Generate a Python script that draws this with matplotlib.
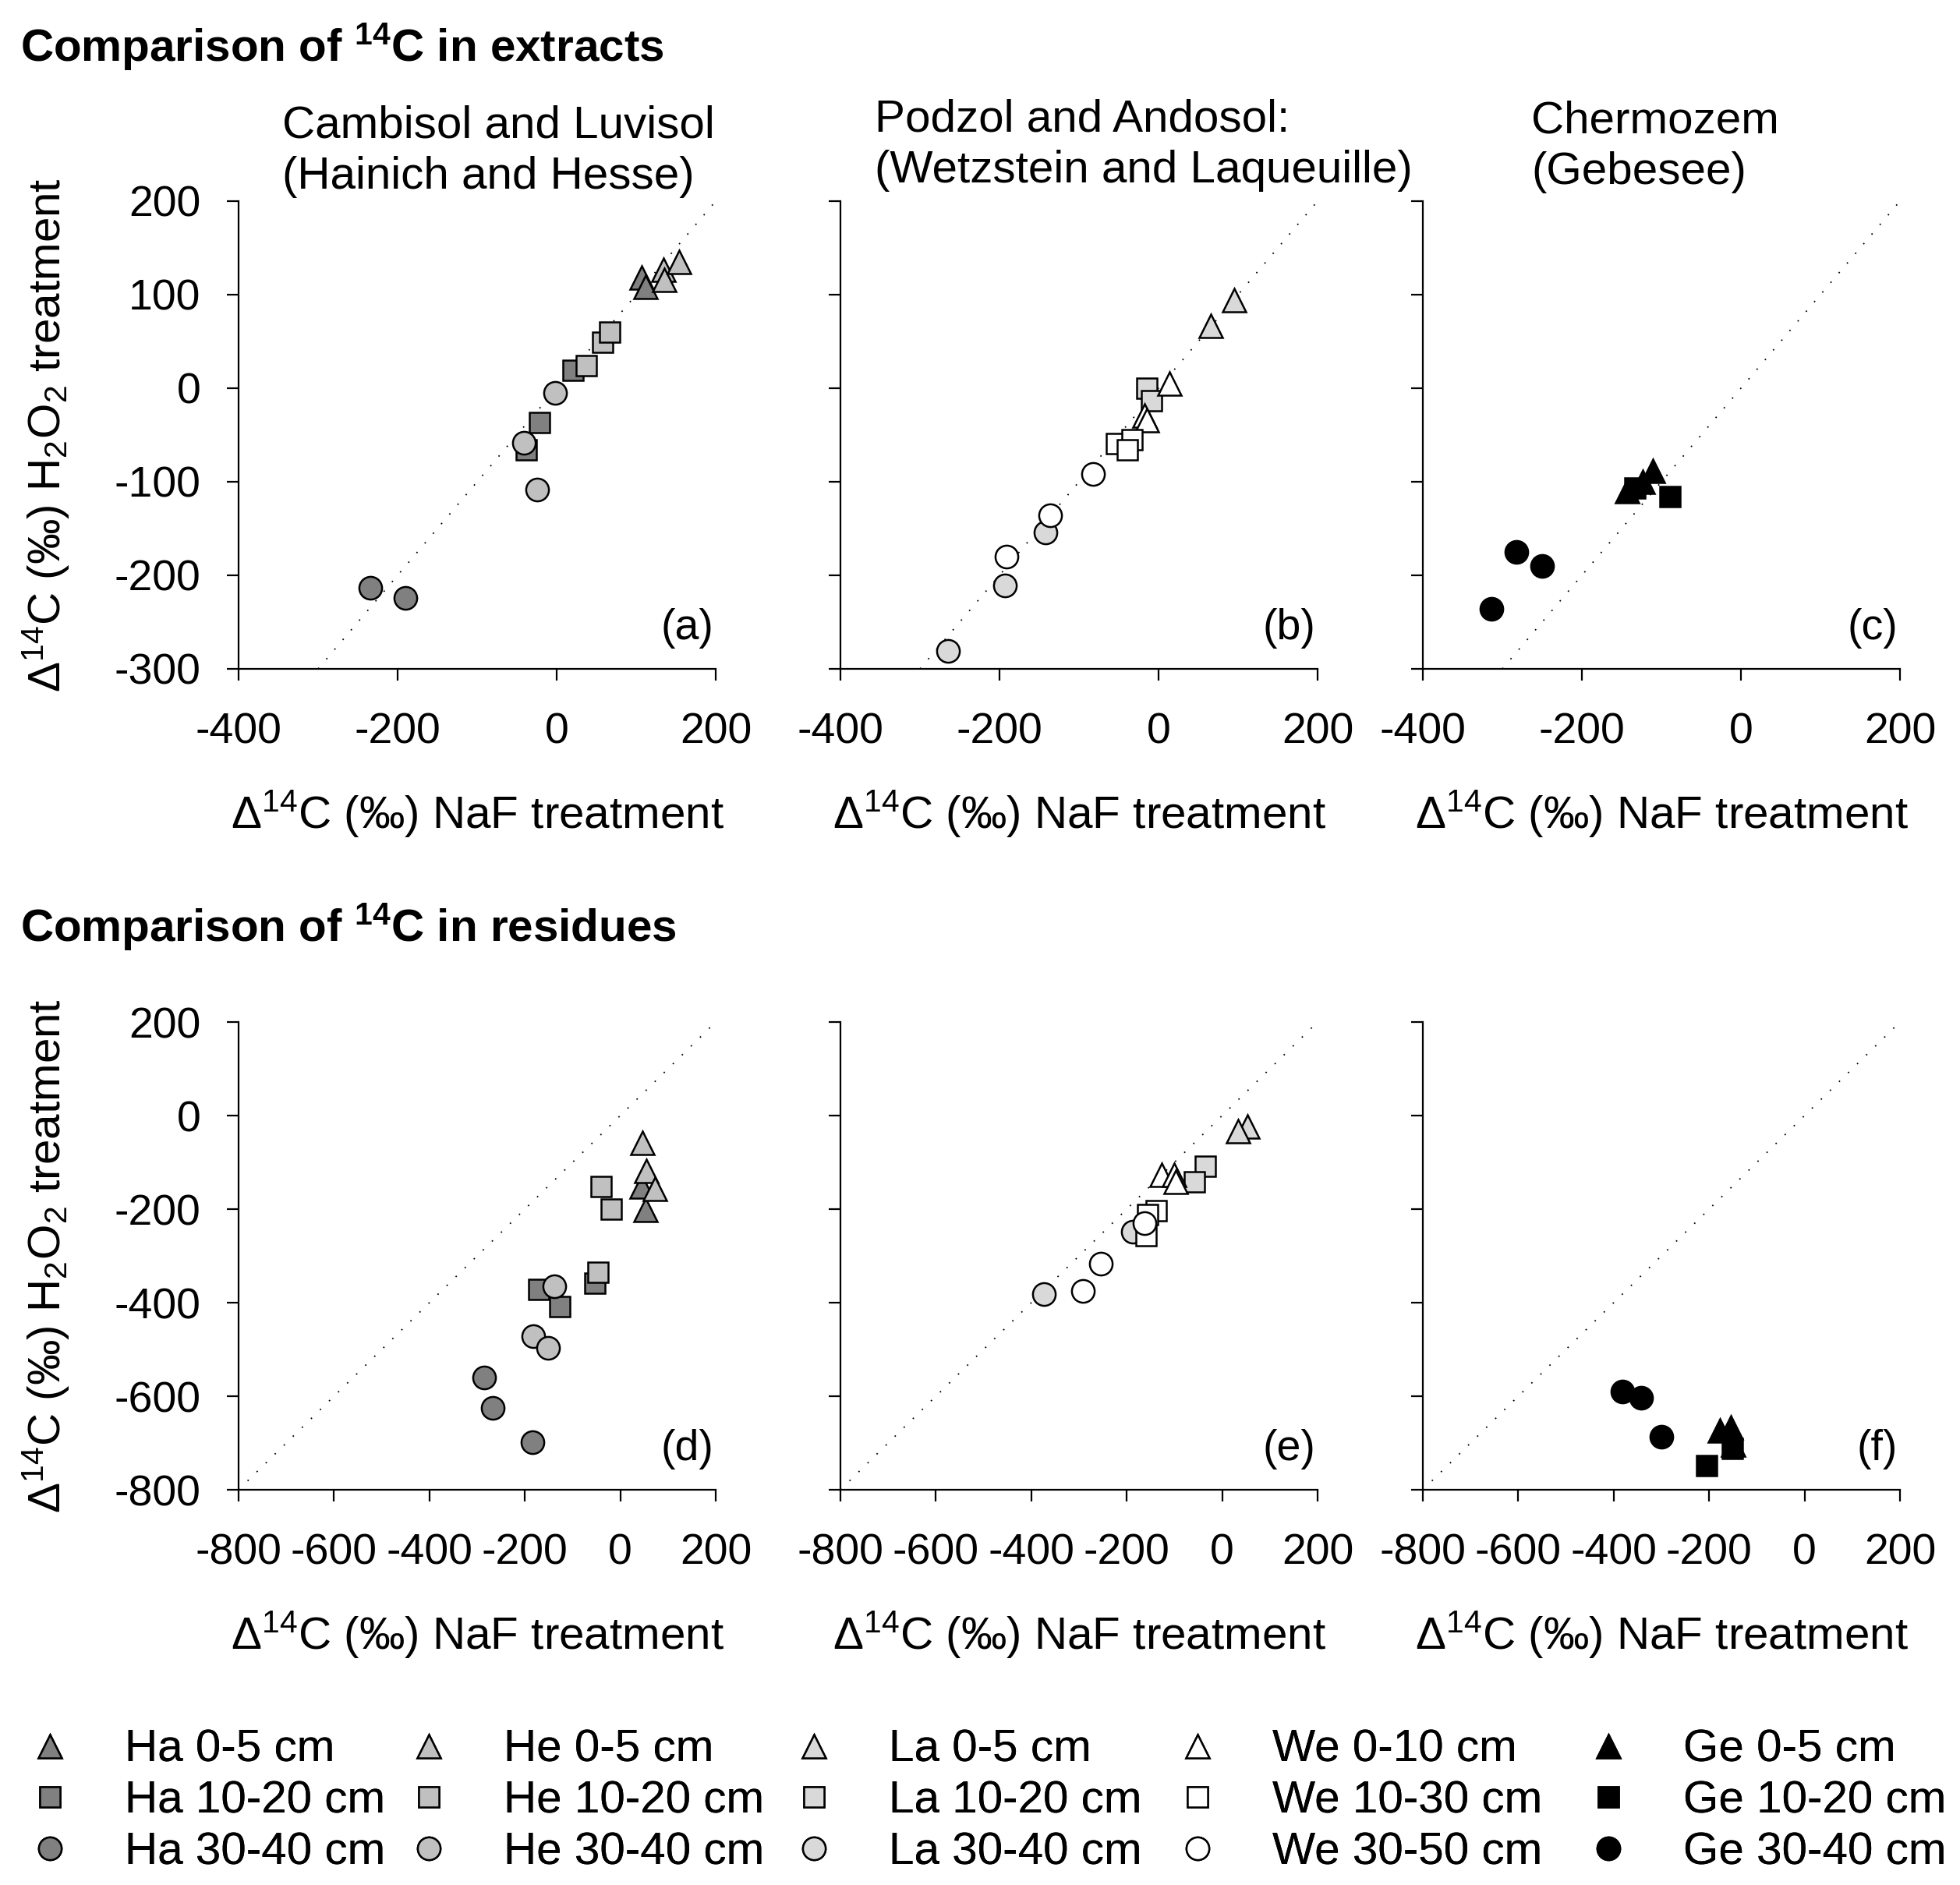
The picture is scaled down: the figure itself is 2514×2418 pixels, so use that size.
import matplotlib
matplotlib.use("Agg")
import matplotlib.pyplot as plt
from matplotlib.lines import Line2D

plt.rcParams['font.family'] = ['Liberation Sans', 'DejaVu Sans']
plt.rcParams['mathtext.fontset'] = 'custom'
plt.rcParams['mathtext.rm'] = 'Liberation Sans'
plt.rcParams['mathtext.it'] = 'Liberation Sans:italic'
plt.rcParams['mathtext.bf'] = 'Liberation Sans:bold'
plt.rcParams['axes.unicode_minus'] = False

# ---- data: (NaF, H2O2) delta14C values per site / depth ----
# extracts
ha_ext = {'0-5': ([107, 112], [118, 108]),
          '10-20': ([-22, -38, 21], [-37, -66, 19]),
          '30-40': ([-234, -190], [-213, -224])}
he_ext = {'0-5': ([134, 135, 154], [127, 116, 135]),
          '10-20': ([37, 58, 67], [24, 49, 60]),
          '30-40': ([-2, -41, -25], [-5, -58, -108])}
la_ext = {'0-5': ([95, 66], [94, 67]),
          '10-20': ([-15, -9], [0, -13]),
          '30-40': ([-142, -193, -265], [-154, -211, -281])}
we_ext = {'0-5': ([14, -18, -15], [5, -29, -34]),
          '10-20': ([-53, -33, -39], [-59, -55, -66]),
          '30-40': ([-82, -136, -191], [-92, -136, -180])}
ge_ext = {'0-5': ([-143, -124, -111], [-110, -100, -88]),
          '10-20': ([-89, -133], [-116, -107]),
          '30-40': ([-282, -250, -314], [-175, -190, -236])}

# residues
ha_res = {'0-5': ([44, 53], [-152, -202]),
          '10-20': ([-171, -126, -54], [-371, -408, -358]),
          '30-40': ([-285, -267, -184], [-560, -625, -698])}
he_res = {'0-5': ([47, 54, 72], [-59, -118, -157]),
          '10-20': ([-46, -41, -19], [-335, -152, -200]),
          '30-40': ([-183, -151, -138], [-471, -497, -365])}
la_res = {'0-5': ([53, 33], [-23, -34]),
          '10-20': ([-35, -58], [-109, -141]),
          '30-40': ([-374, -188], [-381, -248])}
we_res = {'0-5': ([-127, -100, -98], [-126, -126, -142]),
          '10-20': ([-138, -156, -159], [-204, -211, -257]),
          '30-40': ([-163, -255, -292], [-230, -317, -375])}
ge_res = {'0-5': ([-178, -154, -150], [-674, -666, -703]),
          '10-20': ([-205, -152], [-748, -711]),
          '30-40': ([-381, -342, -300], [-590, -604, -687])}

site_names = ['Ha', 'He', 'La', 'We', 'Ge']
site_colors = {'Ha': '#808080', 'He': '#c0c0c0', 'La': '#d9d9d9', 'We': 'white', 'Ge': 'black'}
depth_labels = {'Ha': ['0-5 cm', '10-20 cm', '30-40 cm'],
                'He': ['0-5 cm', '10-20 cm', '30-40 cm'],
                'La': ['0-5 cm', '10-20 cm', '30-40 cm'],
                'We': ['0-10 cm', '10-30 cm', '30-50 cm'],
                'Ge': ['0-5 cm', '10-20 cm', '30-40 cm']}
depth_keys = ['0-5', '10-20', '30-40']
markers = {'0-5': ('^', 22), '10-20': ('s', 18.5), '30-40': ('o', 21)}

panels_top = [[('Ha', ha_ext), ('He', he_ext)], [('La', la_ext), ('We', we_ext)], [('Ge', ge_ext)]]
panels_bot = [[('Ha', ha_res), ('He', he_res)], [('La', la_res), ('We', we_res)], [('Ge', ge_res)]]
top_ticks = [-400, -200, 0, 200]
top_yticks = [-300, -200, -100, 0, 100, 200]
bot_ticks = [-800, -600, -400, -200, 0, 200]
letters_top = ['(a)', '(b)', '(c)']
letters_bot = ['(d)', '(e)', '(f)']

W, H = 2514, 2418
fig = plt.figure(figsize=(W / 100, H / 100), dpi=100)

lefts = [306, 1078, 1825]
aw, ah = 612, 600
tops = [258, 1311]

xlab = 'Δ$^{14}$C (‰) NaF treatment'
ylab = 'Δ$^{14}$C (‰) H$_2$O$_2$ treatment'


def draw_panel(ax, groups, xlim, ylim, xticks, yticks, letter, first):
    ax.axline((0, 0), slope=1, color='black', lw=1.3, linestyle=(0, (1, 8)), zorder=1)
    for site, d in groups:
        for k in depth_keys:
            xs, ys = d[k]
            m, ms = markers[k]
            ax.plot(xs, ys, ls='none', marker=m, ms=ms, mfc=site_colors[site],
                    mec='black', mew=1.8, zorder=3)
    ax.set_xlim(xlim)
    ax.set_ylim(ylim)
    ax.set_xticks(xticks)
    ax.set_yticks(yticks)
    for s in ['top', 'right']:
        ax.spines[s].set_visible(False)
    for s in ['left', 'bottom']:
        ax.spines[s].set_linewidth(1.6)
    ax.tick_params(direction='out', length=11, width=1.6, labelsize=40)
    ax.tick_params(axis='x', pad=29)
    ax.tick_params(axis='y', pad=24)
    if not first:
        ax.set_yticklabels([])
    else:
        ax.set_ylabel(ylab, fontsize=42, labelpad=40)
    ax.set_xlabel(xlab, fontsize=42, labelpad=33)
    ax.text(0.995, 0.087, letter, transform=ax.transAxes, ha='right', va='center', fontsize=40)


for row, (groups_row, xlim, ylim, xt, yt, letters) in enumerate([
        (panels_top, (-400, 200), (-300, 200), top_ticks, top_yticks, letters_top),
        (panels_bot, (-800, 200), (-800, 200), bot_ticks, bot_ticks, letters_bot)]):
    for i in range(3):
        ax = fig.add_axes([lefts[i] / W, 1 - (tops[row] + ah) / H, aw / W, ah / H])
        draw_panel(ax, groups_row[i], xlim, ylim, xt, yt, letters[i], i == 0)

# titles
fig.text(26 / W, 1 - 59 / H, 'Comparison of $^{\\mathbf{14}}$C in extracts',
         fontsize=42, fontweight='bold', ha='left', va='center')
fig.text(26 / W, 1 - 1189 / H, 'Comparison of $^{\\mathbf{14}}$C in residues',
         fontsize=42, fontweight='bold', ha='left', va='center')
fig.text(362 / W, 1 - 194 / H, 'Cambisol and Luvisol\n(Hainich and Hesse)',
         fontsize=42, ha='left', va='center', linespacing=1.28)
fig.text(1122 / W, 1 - 186 / H, 'Podzol and Andosol:\n(Wetzstein and Laqueuille)',
         fontsize=42, ha='left', va='center', linespacing=1.28)
fig.text(1964 / W, 1 - 188 / H, 'Chermozem\n(Gebesee)',
         fontsize=42, ha='left', va='center', linespacing=1.28)

# legend: one block per site
leg_centers = [64, 550, 1044, 1536, 2063]
for site, xc in zip(site_names, leg_centers):
    handles, labels = [], []
    for k, dl in zip(depth_keys, depth_labels[site]):
        m, ms = markers[k]
        handles.append(Line2D([], [], ls='none', marker=m, ms=ms, mfc=site_colors[site],
                              mec='black', mew=1.8))
        labels.append(f'{site} {dl}')
    leg = fig.legend(handles, labels, ncol=1, loc='upper left',
                     bbox_to_anchor=((xc - 29) / W, 1 - 2218 / H),
                     frameon=False, fontsize=42, handlelength=1.0, handletextpad=1.15,
                     labelspacing=0.2, borderpad=0, borderaxespad=0)
    fig.add_artist(leg)

fig.savefig('out.png', dpi=100)
